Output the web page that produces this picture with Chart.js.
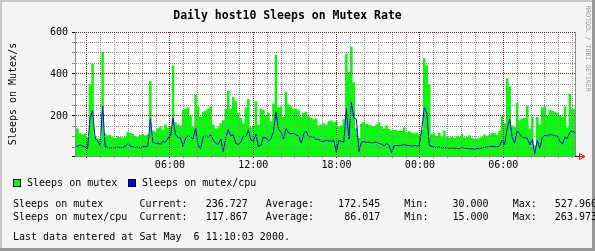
<!DOCTYPE html>
<html>
<head>
<meta charset="utf-8">
<script src="https://cdn.jsdelivr.net/npm/chart.js@4.4.1/dist/chart.umd.min.js"></script>
<style>
  html, body { margin: 0; padding: 0; background: #f5f5f5; }
  canvas { display: block; }
</style>
</head>
<body>
<canvas id="rateChart" width="595" height="251"></canvas>
<script>
// time axis: hours counted from Thu 00:00, graph covers 36 hours
const startHour = 23 + 10 / 60;
const spanHours = 36;

// sleeps on mutex (green area), one value per sample
const mutexRate = [
  145, 140, 118, 112, 115, 100, 350, 450, 105, 95,
  90, 505, 115, 108, 110, 100, 95, 105, 100, 98,
  102, 125, 120, 115, 105, 100, 110, 115, 108, 112,
  365, 130, 125, 140, 150, 135, 160, 145, 150, 440,
  170, 160, 155, 230, 235, 240, 200, 150, 300, 245,
  195, 220, 225, 235, 245, 160, 140, 145, 165, 180,
  235, 320, 235, 290, 270, 215, 190, 165, 240, 280,
  145, 155, 270, 160, 235, 230, 200, 215, 175, 260,
  490, 240, 245, 195, 315, 255, 245, 232, 235, 228,
  195, 215, 220, 200, 190, 185, 188, 155, 160, 165,
  160, 175, 178, 170, 175, 150, 155, 185, 498, 410,
  528, 360, 140, 95, 165, 170, 162, 158, 155, 152,
  160, 170, 150, 140, 155, 138, 130, 135, 132, 128,
  130, 145, 122, 128, 120, 118, 122, 112, 135, 475,
  440, 350, 115, 118, 105, 120, 102, 130, 100, 98,
  100, 96, 102, 100, 115, 98, 100, 108, 95, 90,
  92, 96, 100, 112, 104, 112, 120, 118, 112, 130,
  200, 165, 378, 340, 155, 146, 262, 180, 188, 190,
  250, 140, 195, 60, 195, 160, 240, 245, 200, 228,
  225, 220, 215, 205, 195, 245, 145, 305, 232, 236
];

// sleeps on mutex per cpu (blue line)
const cpuRate = [
  60, 55, 62, 58, 52, 45, 190, 225, 95, 80,
  60, 250, 55, 50, 48, 50, 47, 52, 49, 50,
  55, 68, 58, 52, 50, 52, 48, 55, 53, 57,
  185, 75, 70, 72, 65, 80, 75, 95, 100, 190,
  110, 100, 95, 55, 95, 105, 100, 90, 140, 60,
  45, 100, 105, 98, 110, 85, 70, 65, 90, 30,
  95, 135, 105, 110, 70, 65, 75, 105, 100, 135,
  85, 80, 115, 55, 60, 100, 95, 80, 90, 125,
  220, 135, 125, 90, 140, 120, 115, 118, 110, 105,
  70, 115, 128, 100, 102, 98, 88, 90, 78, 80,
  84, 82, 80, 83, 30, 82, 80, 75, 235, 90,
  265, 190, 185, 30, 75, 78, 74, 76, 72, 75,
  75, 70, 66, 58, 68, 60, 25, 58, 60, 58,
  60, 66, 58, 60, 56, 60, 57, 58, 135, 240,
  215, 60, 55, 52, 50, 52, 48, 50, 47, 46,
  48, 45, 47, 44, 52, 46, 45, 43, 44, 42,
  45, 44, 48, 50, 52, 55, 56, 54, 52, 58,
  85, 65, 140, 185, 100, 70, 130, 115, 100, 95,
  95, 62, 88, 20, 85, 45, 98, 108, 105, 112,
  110, 105, 104, 80, 66, 100, 92, 125, 130, 118
];

const labelHours = [30, 36, 42, 48, 54];
const tickLabels = ['06:00', '12:00', '18:00', '00:00', '06:00'];
const yLabels = [200, 400, 600];

const seriesNames = ['Sleeps on mutex', 'Sleeps on mutex/cpu'];
const currentVals = [236.727, 117.867];
const averageVals = [172.545, 86.017];
const minVals = [30.000, 15.000];
const maxVals = [527.960, 263.973];

const monoFont = '"DejaVu Sans Mono", "Liberation Mono", monospace';
const majorRed = '#821e1e';
const minorGray = '#8c8c8c';

function toPoints(values) {
    const step = spanHours / (values.length - 1);
    return values.map((v, i) => ({ x: startHour + i * step, y: v }));
}

const rrdFrame = {
    id: 'rrdFrame',
    beforeDraw(chart) {
        const ctx = chart.ctx;
        const w = chart.width, h = chart.height;
        const area = chart.chartArea;
        ctx.save();
        ctx.fillStyle = '#f5f5f5';
        ctx.fillRect(0, 0, w, h);
        ctx.fillStyle = '#c8c8c8';
        ctx.fillRect(0, 0, w, 2);
        ctx.fillRect(0, 0, 2, h);
        ctx.fillStyle = '#969696';
        ctx.fillRect(0, h - 3, w, 3);
        ctx.fillRect(w - 3, 0, 3, h);
        ctx.fillStyle = '#ffffff';
        ctx.fillRect(area.left, area.top, area.right - area.left, area.bottom - area.top);
        ctx.restore();
    },
    afterDraw(chart) {
        const ctx = chart.ctx;
        const area = chart.chartArea;
        ctx.save();
        ctx.lineWidth = 1;

        // right frame
        ctx.strokeStyle = minorGray;
        ctx.beginPath();
        ctx.moveTo(area.right + 0.5, area.top);
        ctx.lineTo(area.right + 0.5, area.bottom + 1);
        ctx.stroke();

        // axis arrow
        const ay = area.bottom + 0.5;
        ctx.strokeStyle = '#000';
        ctx.beginPath();
        ctx.moveTo(area.right, ay);
        ctx.lineTo(area.right + 4, ay);
        ctx.stroke();
        ctx.strokeStyle = '#ff0000';
        ctx.beginPath();
        ctx.moveTo(area.right + 4.5, ay - 3);
        ctx.lineTo(area.right + 10, ay);
        ctx.lineTo(area.right + 4.5, ay + 3);
        ctx.closePath();
        ctx.moveTo(area.right + 4, ay);
        ctx.lineTo(area.right + 10, ay);
        ctx.stroke();

        // legend
        ctx.font = '10px ' + monoFont;
        ctx.textBaseline = 'middle';
        ctx.textAlign = 'left';
        const legendItems = [
            { x: 13, color: '#00ff00', text: seriesNames[0] },
            { x: 128, color: '#0000ff', text: seriesNames[1] }
        ];
        legendItems.forEach(item => {
            ctx.fillStyle = item.color;
            ctx.fillRect(item.x, 179, 8, 8);
            ctx.strokeStyle = '#000';
            ctx.strokeRect(item.x + 0.5, 179.5, 7, 7);
            ctx.fillStyle = '#000';
            ctx.fillText(item.text, item.x + 14, 183.5);
        });

        // statistics
        seriesNames.forEach((name, i) => {
            const line = name.padEnd(21) + 'Current:' + currentVals[i].toFixed(3).padStart(10)
                + '   Average:' + averageVals[i].toFixed(3).padStart(11)
                + '    Min:' + minVals[i].toFixed(3).padStart(10)
                + '    Max:' + maxVals[i].toFixed(3).padStart(10);
            ctx.fillText(line, 13, 204.5 + i * 13);
        });
        ctx.fillText('Last data entered at Sat May  6 11:10:03 2000.', 13, 237.5);

        // side stamp
        ctx.translate(588, 48.5);
        ctx.rotate(Math.PI / 2);
        ctx.textAlign = 'center';
        ctx.font = '6.5px ' + monoFont;
        ctx.fillStyle = '#969696';
        ctx.fillText('RRDTOOL / TOBI OETIKER', 0, 0);
        ctx.restore();
    }
};

const hourGrid = [];
for (let h = Math.ceil(startHour); h <= startHour + spanHours; h++) hourGrid.push(h);
const yGrid = [9.5];
for (let v = 50; v <= 600; v += 50) yGrid.push(v);

const chart = new Chart(document.getElementById('rateChart'), {
    type: 'line',
    data: {
        datasets: [
            {
                label: seriesNames[1],
                data: toPoints(cpuRate),
                borderColor: '#0000ff',
                borderWidth: 1,
                pointRadius: 0,
                fill: false,
                tension: 0,
                order: 1
            },
            {
                label: seriesNames[0],
                data: toPoints(mutexRate),
                borderColor: '#00ff00',
                backgroundColor: '#00ff00',
                borderWidth: 0,
                pointRadius: 0,
                fill: 'origin',
                stepped: 'middle',
                order: 2
            }
        ]
    },
    options: {
        responsive: false,
        animation: false,
        devicePixelRatio: 1,
        layout: { padding: { top: 0, right: 20, bottom: 0, left: 0 } },
        plugins: {
            legend: { display: false },
            tooltip: { enabled: false },
            title: {
                display: true,
                text: 'Daily host10 Sleeps on Mutex Rate',
                color: '#000',
                font: { family: monoFont, size: 11.5, weight: 'bold', lineHeight: 1 },
                padding: { top: 10, bottom: 10.5 }
            }
        },
        scales: {
            x: {
                type: 'linear',
                min: startHour,
                max: startHour + spanHours,
                afterFit: (scale) => { scale.height = 95; },
                afterBuildTicks: (scale) => { scale.ticks = hourGrid.map(h => ({ value: h })); },
                grid: {
                    z: 1,
                    color: (c) => (c.tick && c.tick.value % 6 === 0) ? majorRed : minorGray,
                    tickColor: (c) => (c.tick && c.tick.value % 6 === 0) ? majorRed : minorGray,
                    tickLength: 2,
                    lineWidth: 1
                },
                border: { z: 1, color: minorGray, dash: [1, 1] },
                ticks: {
                    autoSkip: false,
                    maxRotation: 0,
                    padding: 1,
                    color: '#000',
                    font: { family: monoFont, size: 10 },
                    callback: (v) => {
                        const k = labelHours.indexOf(v);
                        return k >= 0 ? tickLabels[k] : '';
                    }
                }
            },
            y: {
                min: 9.5,
                max: 600,
                afterFit: (scale) => { scale.width = 75; },
                afterBuildTicks: (scale) => { scale.ticks = yGrid.map(v => ({ value: v })); },
                grid: {
                    z: 1,
                    color: (c) => {
                        if (!c.tick || c.tick.value < 50) return 'rgba(0,0,0,0)';
                        return c.tick.value % 200 === 0 ? majorRed : minorGray;
                    },
                    tickColor: (c) => (c.tick && (c.tick.value % 200 === 0 || c.tick.value < 50)) ? '#000' : minorGray,
                    tickLength: 3,
                    lineWidth: 1
                },
                border: { z: 1, color: minorGray, dash: [1, 1] },
                ticks: {
                    autoSkip: false,
                    padding: 4,
                    color: '#000',
                    font: { family: monoFont, size: 10 },
                    callback: (v) => yLabels.includes(v) ? String(v) : ''
                },
                title: {
                    display: true,
                    text: 'Sleeps on Mutex/s',
                    color: '#000',
                    font: { family: monoFont, size: 10, lineHeight: 1.2 },
                    padding: { top: 7, bottom: 0 }
                }
            }
        }
    },
    plugins: [rrdFrame]
});
</script>
</body>
</html>
